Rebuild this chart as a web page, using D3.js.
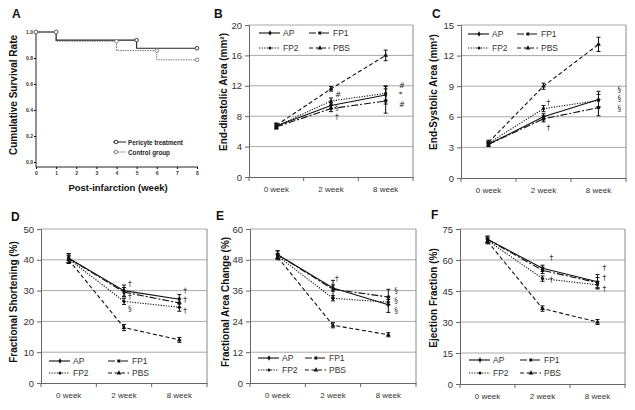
<!DOCTYPE html>
<html><head><meta charset="utf-8">
<script src="https://cdn.jsdelivr.net/npm/d3@7"></script>
<style>body{margin:0;background:#fff}svg{display:block;font-family:"Liberation Sans",Arial,sans-serif}</style>
</head><body><svg width="635" height="410"></svg>
<script>
// ---------- DATA ----------
const weeks = ["0 week", "2 week", "8 week"];
const groups = ["AP", "FP1", "FP2", "PBS"];

// Panel A: Kaplan-Meier survival
const pericyteWeeks = [0, 1, 5, 8];
const pericyteSurv = [1.0, 0.9375, 0.875, 0.875];
const controlWeeks = [0, 1, 4, 6, 8];
const controlSurv = [1.0, 0.929, 0.857, 0.786, 0.786];
const survLegend = ["Pericyte treatment", "Control group"];

// Panel B: End-diastolic area (AP, FP1, FP2, PBS)
const edaMean = [[6.7, 9.4, 10.8], [6.6, 9.0, 10.0], [6.7, 10.0, 11.0], [6.8, 11.6, 16.0]];
const edaErr  = [[0.3, 0.4, 1.2], [0.3, 0.4, 1.6], [0.3, 0.4, 0.9], [0.3, 0.3, 0.7]];
const edaMarks = [[1, 10.8, "#"], [1, 9.2, "§"], [1, 7.9, "†"], [2, 12.0, "#"], [2, 10.8, "*"], [2, 9.6, "#"]];

// Panel C: End-systolic area
const esaMean = [[3.3, 6.0, 7.7], [3.3, 5.8, 6.9], [3.4, 6.8, 7.6], [3.5, 9.0, 13.1]];
const esaErr  = [[0.2, 0.3, 0.8], [0.2, 0.3, 0.8], [0.2, 0.3, 0.6], [0.2, 0.3, 0.7]];
const esaMarks = [[1, 7.4, "†"], [1, 5.0, "†"], [2, 8.7, "§"], [2, 7.75, "§"], [2, 6.8, "§"]];

// Panel D: Fractional shortening
const fsMean = [[40.5, 30.0, 27.2], [40.5, 29.5, 26.0], [40.3, 26.5, 24.6], [40.0, 18.0, 14.0]];
const fsErr  = [[1.5, 1.8, 1.5], [1.5, 1.5, 1.5], [1.2, 1.0, 1.3], [1.2, 1.0, 0.8]];
const fsMarks = [[1, 32.4, "†"], [1, 28.0, "†"], [1, 24.1, "§"], [2, 30.1, "†"], [2, 27.0, "†"], [2, 23.6, "†"]];

// Panel E: Fractional area change
const facMean = [[50.0, 37.0, 30.5], [50.0, 36.5, 33.5], [49.5, 33.0, 31.5], [49.0, 22.5, 18.8]];
const facErr  = [[1.5, 1.2, 3.0], [1.5, 3.5, 3.0], [1.0, 1.0, 1.0], [1.0, 1.0, 0.8]];
const facMarks = [[1, 40.6, "†"], [2, 36.1, "§"], [2, 32.2, "§"], [2, 28.2, "§"]];

// Panel F: Ejection fraction
const efMean = [[70.0, 56.0, 49.5], [70.0, 55.0, 49.0], [69.5, 51.0, 48.0], [69.0, 36.5, 30.0]];
const efErr  = [[1.5, 1.5, 3.5], [1.5, 1.5, 2.5], [1.2, 1.3, 1.5], [1.2, 1.3, 1.2]];
const efMarks = [[1, 61.2, "†"], [1, 50.6, "†"], [2, 56.6, "†"], [2, 51.4, "†"], [2, 46.2, "†"]];

// ---------- STYLE ----------
const seriesStyle = {
  AP:  {dash: null,        marker: "diamond"},
  FP1: {dash: "7,2,2,2",   marker: "square"},
  FP2: {dash: "1.2,1.4",   marker: "circle"},
  PBS: {dash: "4,2.5",     marker: "triangle"}
};
const svg = d3.select("svg");
const INK = "#111";

function marker(g, type, cx, cy) {
  const sym = {diamond: d3.symbolDiamond, square: d3.symbolSquare, circle: d3.symbolCircle, triangle: d3.symbolTriangle}[type];
  const size = {diamond: 9, square: 9, circle: 8, triangle: 10}[type];
  g.append("path").attr("d", d3.symbol(sym, size)()).attr("transform", `translate(${cx},${cy})`).attr("fill", INK);
}

function drawPanel(p) {
  const g = svg.append("g");
  const x = d3.scaleBand().domain(weeks).range([p.x0, p.x1]);
  const y = d3.scaleLinear().domain([0, p.max]).range([p.y1, p.y0]);
  const ticks = d3.range(0, p.max + 1e-9, p.step);

  g.selectAll(".grid").data(ticks.filter(t => t > 0)).join("line")
    .attr("x1", p.x0).attr("x2", p.x1).attr("y1", d => y(d)).attr("y2", d => y(d))
    .attr("stroke", "#a8a8a8").attr("stroke-width", 1);
  g.append("line").attr("x1", p.x1).attr("x2", p.x1).attr("y1", p.y0).attr("y2", p.y1)
    .attr("stroke", "#8a8a8a");

  const ya = g.append("g").attr("transform", `translate(${p.x0},0)`)
    .call(d3.axisLeft(y).tickValues(ticks).tickSize(4).tickPadding(3).tickFormat(d3.format("d")));
  ya.select(".domain").attr("stroke", "#666");
  ya.selectAll(".tick line").attr("stroke", "#666");
  ya.selectAll("text").attr("font-size", 9.5).attr("fill", "#333").attr("font-family", "Liberation Sans, Arial");

  const xa = g.append("g").attr("transform", `translate(0,${p.y1})`)
    .call(d3.axisBottom(x).tickSize(0).tickPadding(9));
  xa.select(".domain").attr("stroke", "#666");
  xa.selectAll("text").attr("font-size", 8).attr("fill", "#333").attr("font-family", "Liberation Sans, Arial");
  g.selectAll(".xt").data(d3.range(weeks.length + 1)).join("line")
    .attr("x1", i => p.x0 + i * x.step()).attr("x2", i => p.x0 + i * x.step())
    .attr("y1", p.y1).attr("y2", p.y1 + 4).attr("stroke", "#666");

  g.append("text").attr("transform", `translate(${p.titleX},${p.titleY}) rotate(-90)`)
    .attr("text-anchor", "middle").attr("dominant-baseline", "central")
    .attr("font-size", 10).attr("font-weight", "bold").attr("fill", INK).text(p.title);
  g.append("text").attr("x", p.lx).attr("y", p.ly).attr("font-size", 12).attr("font-weight", "bold")
    .attr("fill", INK).text(p.letter);

  const cx = i => x(weeks[i]) + x.bandwidth() / 2;
  const line = d3.line().x((d, i) => cx(i)).y(d => y(d));

  groups.forEach((name, s) => {
    const st = seriesStyle[name];
    g.append("path").attr("d", line(p.mean[s])).attr("fill", "none").attr("stroke", INK)
      .attr("stroke-width", 1.1).attr("stroke-dasharray", st.dash);
    p.mean[s].forEach((v, i) => {
      const e = p.err[s][i];
      const xx = cx(i);
      g.append("line").attr("x1", xx).attr("x2", xx).attr("y1", y(v - e)).attr("y2", y(v + e)).attr("stroke", INK).attr("stroke-width", 1);
      [v - e, v + e].forEach(t => g.append("line").attr("x1", xx - 2).attr("x2", xx + 2).attr("y1", y(t)).attr("y2", y(t)).attr("stroke", INK).attr("stroke-width", 1));
      marker(g, st.marker, xx, y(v));
    });
  });

  p.marks.forEach(([i, v, sym]) => {
    g.append("text").attr("x", cx(i) + p.markDx[i]).attr("y", y(v)).attr("dominant-baseline", "central")
      .attr("font-size", 7.5).attr("font-family", "DejaVu Sans").attr("fill", "#333").text(sym);
  });

  groups.forEach((name, s) => {
    const col = s % 2, row = Math.floor(s / 2);
    const lx = p.legX[col], ly = p.legY[row];
    const st = seriesStyle[name];
    g.append("line").attr("x1", lx).attr("x2", lx + 21).attr("y1", ly).attr("y2", ly)
      .attr("stroke", INK).attr("stroke-width", 1.1).attr("stroke-dasharray", st.dash);
    marker(g, st.marker, lx + 11, ly);
    g.append("text").attr("x", lx + 24).attr("y", ly).attr("dominant-baseline", "central")
      .attr("font-size", 8.5).attr("fill", "#333").text(name);
  });
}

// ---------- PANEL A ----------
(function () {
  const g = svg.append("g");
  const x = d3.scaleLinear().domain([0, 8]).range([36, 197]);
  const y = d3.scaleLinear().domain([0, 1]).range([162, 32]);
  const axY = 167;
  g.append("line").attr("x1", 36).attr("x2", 36).attr("y1", 31).attr("y2", axY).attr("stroke", "#222");
  g.append("line").attr("x1", 36).attr("x2", 198).attr("y1", axY).attr("y2", axY).attr("stroke", "#222");
  const ya = g.append("g").attr("transform", "translate(36,0)")
    .call(d3.axisLeft(y).tickValues([0, 0.2, 0.4, 0.6, 0.8, 1.0]).tickSize(2).tickPadding(1).tickFormat(d3.format(".1f")));
  ya.select(".domain").remove();
  ya.selectAll("text").attr("font-size", 5).attr("font-weight", "bold").attr("fill", "#333");
  const xa = g.append("g").attr("transform", `translate(0,${axY})`)
    .call(d3.axisBottom(x).tickValues(d3.range(0, 9)).tickSize(2).tickPadding(2).tickFormat(d3.format("d")));
  xa.select(".domain").remove();
  xa.selectAll("text").attr("font-size", 5).attr("font-weight", "bold").attr("fill", "#333");

  const step = d3.line().x(d => x(d[0])).y(d => y(d[1])).curve(d3.curveStepAfter);
  const per = pericyteWeeks.map((w, i) => [w, pericyteSurv[i]]);
  const con = controlWeeks.map((w, i) => [w, controlSurv[i]]);
  g.append("path").attr("d", step(con)).attr("fill", "none").attr("stroke", "#777").attr("stroke-width", 1).attr("stroke-dasharray", "1.5,1");
  g.append("path").attr("d", step(per)).attr("fill", "none").attr("stroke", "#222").attr("stroke-width", 1.1);
  function censor(pts, color) {
    pts.forEach((d, i) => {
      const v = i === 0 ? d[1] : pts[i - 1][1];
      g.append("circle").attr("cx", x(d[0])).attr("cy", y(i === pts.length - 1 ? d[1] : v)).attr("r", 1.8)
        .attr("fill", "#fff").attr("stroke", color).attr("stroke-width", 0.9);
    });
  }
  censor(per, "#222");
  censor(con, "#777");

  g.append("text").attr("transform", "translate(13,95) rotate(-90)").attr("text-anchor", "middle")
    .attr("dominant-baseline", "central").attr("font-size", 10).attr("font-weight", "bold").attr("fill", INK)
    .text("Cumulative Survival Rate");
  g.append("text").attr("x", 118).attr("y", 191).attr("text-anchor", "middle").attr("font-size", 9.5)
    .attr("font-weight", "bold").attr("fill", INK).text("Post-infarction (week)");
  g.append("text").attr("x", 12).attr("y", 18).attr("font-size", 12).attr("font-weight", "bold").attr("fill", INK).text("A");

  [[survLegend[0], "#222", null, 142], [survLegend[1], "#777", "1.5,1", 152]].forEach(([t, c, dash, ly]) => {
    g.append("line").attr("x1", 113).attr("x2", 126).attr("y1", ly).attr("y2", ly).attr("stroke", c).attr("stroke-dasharray", dash);
    g.append("circle").attr("cx", 116).attr("cy", ly).attr("r", 1.8).attr("fill", "#fff").attr("stroke", c).attr("stroke-width", 0.9);
    g.append("text").attr("x", 128).attr("y", ly).attr("dominant-baseline", "central").attr("font-size", 6.3)
      .attr("font-weight", "bold").attr("fill", "#222").text(t);
  });
})();

// ---------- PANELS B-F ----------
drawPanel({x0: 249, x1: 413, y0: 25, y1: 177, max: 20, step: 4, title: "End-diastolic Area (mm²)",
  titleX: 223, titleY: 92, letter: "B", lx: 214, ly: 18, mean: edaMean, err: edaErr, marks: edaMarks,
  markDx: [5, 4, 13], legX: [259, 309], legY: [33, 48]});
drawPanel({x0: 461, x1: 626, y0: 25, y1: 178, max: 15, step: 3, title: "End-Systolic Area (mm²)",
  titleX: 433, titleY: 92, letter: "C", lx: 432, ly: 18, mean: esaMean, err: esaErr, marks: esaMarks,
  markDx: [5, 3, 19], legX: [468, 517], legY: [34, 48]});
drawPanel({x0: 41, x1: 207, y0: 229, y1: 383, max: 50, step: 10, title: "Fractional Shortening (%)",
  titleX: 13, titleY: 302, letter: "D", lx: 11, ly: 221, mean: fsMean, err: fsErr, marks: fsMarks,
  markDx: [5, 4, 4], legX: [49, 108], legY: [361, 373]});
drawPanel({x0: 250, x1: 416, y0: 229, y1: 383, max: 60, step: 12, title: "Fractional Area Change (%)",
  titleX: 225, titleY: 302, letter: "E", lx: 216, ly: 220, mean: facMean, err: facErr, marks: facMarks,
  markDx: [4, 2, 6], legX: [258, 305], legY: [358, 370]});
drawPanel({x0: 460, x1: 625, y0: 229, y1: 384, max: 75, step: 15, title: "Ejection Fraction (%)",
  titleX: 433, titleY: 298, letter: "F", lx: 431, ly: 219, mean: efMean, err: efErr, marks: efMarks,
  markDx: [8, 7, 5], legX: [469, 520], legY: [360, 373]});
</script></body></html>
